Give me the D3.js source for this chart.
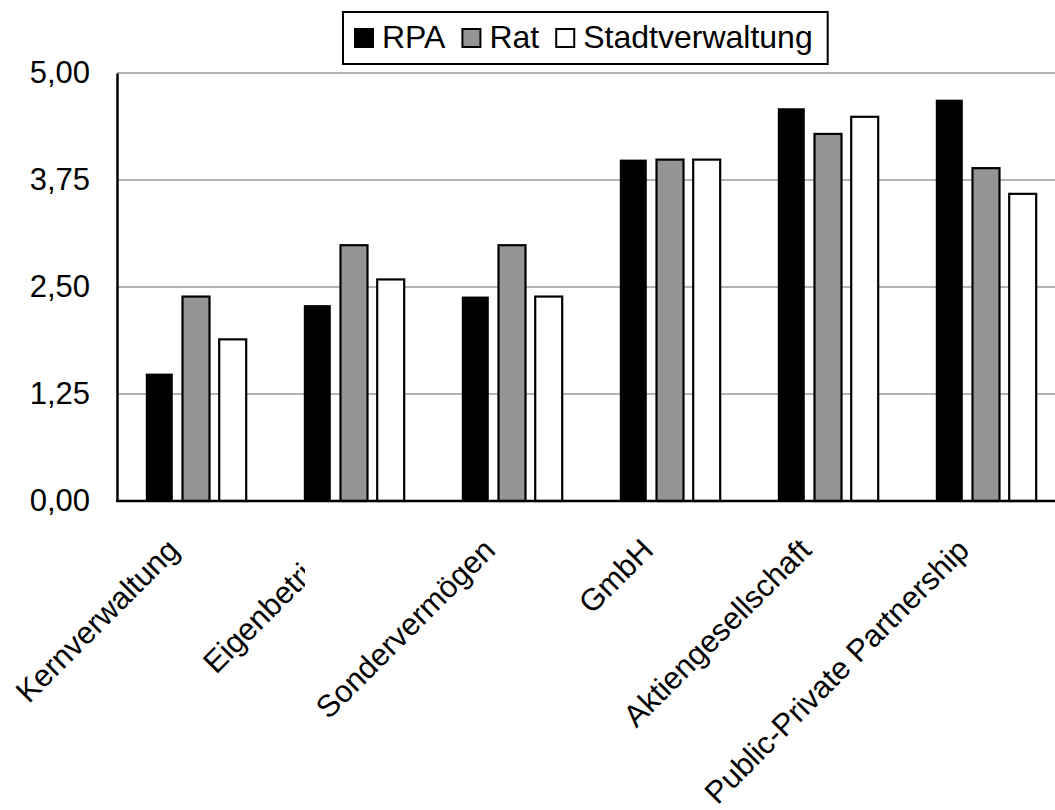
<!DOCTYPE html>
<html lang="de">

<head>
    <meta charset="UTF-8">
    <title>RPA / Rat / Stadtverwaltung</title>
    <script src="https://d3js.org/d3.v7.min.js"></script>
    <style>
        body {
            margin: 0;
            background: #fff;
        }

        text {
            font-family: "Liberation Sans", Arial, Helvetica, sans-serif;
        }
    </style>
</head>

<body>
    <svg id="chart"></svg>

    <script>
        // Data
        const categories = ["Kernverwaltung", "Eigenbetrieb", "Sondervermögen", "GmbH", "Aktiengesellschaft", "Public-Private Partnership"];
        const seriesNames = ["RPA", "Rat", "Stadtverwaltung"];
        const rpaValues = [1.5, 2.3, 2.4, 4.0, 4.6, 4.7];
        const ratValues = [2.4, 3.0, 3.0, 4.0, 4.3, 3.9];
        const stadtValues = [1.9, 2.6, 2.4, 4.0, 4.5, 3.6];
        const yTicks = [0, 1.25, 2.5, 3.75, 5];

        const width = 1055;
        const height = 810;
        const plotLeft = 117, plotTop = 73, plotBottom = 501;
        const step = 158;          // width of one category
        const fontSize = 31;
        const legendFontSize = 32;

        const fills = { RPA: "#000000", Rat: "#959595", Stadtverwaltung: "#ffffff" };
        const valuesBySeries = { RPA: rpaValues, Rat: ratValues, Stadtverwaltung: stadtValues };

        const svg = d3.select("#chart").attr("width", width).attr("height", height);

        const x = d3.scaleBand()
            .domain(categories)
            .range([plotLeft, plotLeft + step * categories.length]);

        const x1 = d3.scaleBand()
            .domain(seriesNames)
            .range([-51.2, 51.2])
            .paddingInner(0.21);

        const y = d3.scaleLinear().domain([0, 5]).range([plotBottom, plotTop]);

        const locale = d3.formatLocale({ decimal: ",", thousands: ".", grouping: [3], currency: ["", " €"] });
        const fmt = locale.format(".2f");

        // horizontal grid lines
        svg.append("g")
            .selectAll("line")
            .data(yTicks.filter(d => d > 0))
            .join("line")
            .attr("x1", plotLeft)
            .attr("x2", width)
            .attr("y1", d => y(d))
            .attr("y2", d => y(d))
            .attr("stroke", "#b3b3b3")
            .attr("stroke-width", 2);

        // bars
        const groups = svg.append("g")
            .selectAll("g")
            .data(categories)
            .join("g")
            .attr("transform", d => `translate(${x(d) + x.bandwidth() / 2},0)`);

        groups.selectAll("rect")
            .data((c, i) => seriesNames.map(s => ({ s, v: valuesBySeries[s][i] })))
            .join("rect")
            .attr("x", d => x1(d.s) + 1)
            .attr("width", x1.bandwidth() - 2)
            .attr("y", d => y(d.v) + 1)
            .attr("height", d => plotBottom - y(d.v) - 1)
            .attr("fill", d => fills[d.s])
            .attr("stroke", "#000")
            .attr("stroke-width", d => d.s === "RPA" ? 0 : 2.2);

        // y axis
        const yAxis = svg.append("g")
            .attr("transform", `translate(${plotLeft},0)`)
            .call(d3.axisLeft(y).tickValues(yTicks).tickFormat(fmt).tickSize(0).tickPadding(27));
        yAxis.select(".domain").attr("stroke", "#000").attr("stroke-width", 2.5);
        yAxis.selectAll("text")
            .attr("font-size", fontSize)
            .attr("fill", "#000")
            .style("font-family", '"Liberation Sans", Arial, sans-serif');

        // x axis (baseline + rotated labels)
        const xAxis = svg.append("g")
            .attr("transform", `translate(0,${plotBottom})`)
            .call(d3.axisBottom(x).tickSize(0));
        xAxis.select(".domain").remove();
        svg.append("line")
            .attr("x1", plotLeft - 1).attr("x2", width)
            .attr("y1", plotBottom).attr("y2", plotBottom)
            .attr("stroke", "#000").attr("stroke-width", 2.5);

        xAxis.selectAll("text")
            .attr("x", 0).attr("y", 0).attr("dy", 0)
            .attr("font-size", fontSize)
            .attr("fill", "#000")
            .style("font-family", '"Liberation Sans", Arial, sans-serif')
            .attr("text-anchor", "end")
            .attr("transform", "translate(-15,51) rotate(-45)");

        // the second label is cut off in the original
        const labelClipX = 305;
        svg.append("defs").append("clipPath")
            .attr("id", "clipEigen")
            .append("rect")
            .attr("x", -400)
            .attr("y", -100)
            .attr("width", 400 + labelClipX - (x("Eigenbetrieb") + x.bandwidth() / 2))
            .attr("height", 400);
        xAxis.selectAll(".tick")
            .filter(d => d === "Eigenbetrieb")
            .attr("clip-path", "url(#clipEigen)");

        // legend
        const legend = svg.append("g");
        const legendBox = legend.append("rect")
            .attr("y", 12)
            .attr("height", 52)
            .attr("fill", "#fff")
            .attr("stroke", "#000")
            .attr("stroke-width", 2);

        let lx = 354;
        let textEnd = lx;
        seriesNames.forEach(s => {
            legend.append("rect")
                .attr("x", lx + 1).attr("y", 29)
                .attr("width", 18).attr("height", 18)
                .attr("fill", fills[s])
                .attr("stroke", "#000")
                .attr("stroke-width", 2);
            const t = legend.append("text")
                .attr("x", lx + 28)
                .attr("y", 48)
                .attr("font-size", legendFontSize)
                .text(s);
            textEnd = lx + 28 + t.node().getComputedTextLength();
            lx = textEnd + 16;
        });
        legendBox.attr("x", 343).attr("width", textEnd + 15 - 343);
    </script>
</body>

</html>
